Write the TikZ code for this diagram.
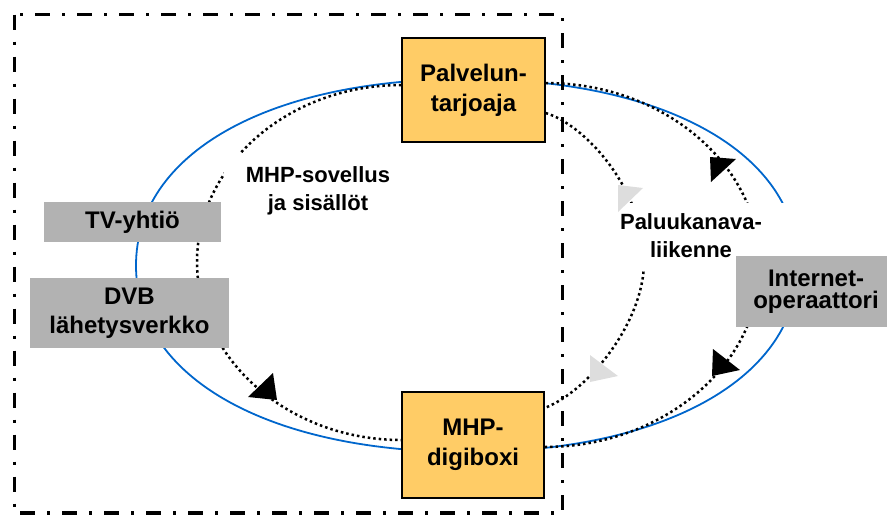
\documentclass[tikz,border=0pt]{standalone}
\usepackage{fontspec}
\setmainfont{Liberation Sans}
\definecolor{boxorange}{HTML}{FFCC66}
\definecolor{boxgray}{HTML}{B2B2B2}
\definecolor{ringblue}{HTML}{0066CC}
\definecolor{tipgray}{HTML}{DDDDDD}
\tikzset{
  orangebox/.style={draw=black, line width=1.3pt, fill=boxorange, inner sep=0pt,
    align=center, font=\fontsize{24}{30}\selectfont\bfseries},
  graybox/.style={fill=boxgray, inner sep=0pt, align=center,
    font=\fontsize{24}{28.5}\selectfont\bfseries},
  flowlabel/.style={fill=white, inner xsep=16pt, inner ysep=10pt, align=center,
    font=\fontsize{22}{28}\selectfont\bfseries},
  flowline/.style={line width=2.5pt, dash pattern=on 2.5pt off 3pt},
  ring/.style={draw=ringblue, line width=1.8pt},
  frame/.style={line width=3.5pt, dash pattern=on 15pt off 12pt on 3pt off 12pt},
}
\begin{document}
\begin{tikzpicture}[x=1pt, y=-1pt]
\useasboundingbox (0,0) rectangle (887,515);

% blue ring round the whole service chain
\draw[ring] (136,265.5) .. controls (136,153.6) and (268.4,79) .. (467,79)
  .. controls (665.6,79) and (798,153.6) .. (798,265.5)
  .. controls (798,377.4) and (665.6,452) .. (467,452)
  .. controls (268.4,452) and (136,377.4) .. (136,265.5) -- cycle;

% boxes (placed first so the flows can refer to them)
\node[orangebox, minimum width=143pt, minimum height=104pt] (pt) at (473.5,90)
  {Palvelun-\\tarjoaja};
\node[orangebox, minimum width=142pt, minimum height=106pt] (mhp) at (473,445)
  {MHP-\\digiboxi};

% turning points of the three flows
\coordinate (lbend) at (197,262);
\coordinate (mbend) at (644,262);
\coordinate (rbend) at (760,265);

% broadcast flow: service provider -> TV company -> DVB network -> set-top box
\draw[flowline] ([yshift=5pt]pt.west) .. controls +(-113,0) and +(0,-97) .. (lbend)
  .. controls +(0,97) and +(-113,0) .. ([yshift=5pt]mhp.west);
% return channel, inner loop
\draw[flowline] ([yshift=-23pt]pt.east) .. controls +(40,12) and +(0,-72) .. (mbend)
  .. controls +(0,58) and +(46,-18) .. ([yshift=37pt]mhp.east);
% return channel via the Internet operator
\draw[flowline] ([yshift=7pt]pt.east) .. controls +(118,0) and +(0,-100) .. (rbend)
  .. controls +(0,100) and +(118,0) .. ([yshift=-2pt]mhp.east);

% flow labels
\node[flowlabel, inner xsep=22pt, inner ysep=14pt] (apps) at (318,191.3)
  {MHP-sovellus\\ja sisällöt};
\node[flowlabel, inner xsep=19.6pt, inner ysep=11pt] (retlbl) at (701,236)
  {Paluukanava-\hspace*{20pt}\\liikenne\hspace*{20pt}};

% grey boxes on top of the flows
\node[graybox, minimum width=177pt, minimum height=40pt] (tv) at (132.5,222) {TV-yhtiö};
\node[graybox, minimum width=199pt, minimum height=70pt] (dvb) at (129.5,313)
  {DVB\\lähetysverkko};
\node[graybox, minimum width=160pt, minimum height=71pt,
  font=\fontsize{24}{22.5}\selectfont\bfseries] (inet) at (816,291.5)
  {Internet-\\operaattori};

% arrow heads
\fill[black] (273,373) -- (277,400) -- (248,397) -- cycle;
\fill[black] (710,157) -- (736,159) -- (711,182) -- cycle;
\fill[black] (713,349) -- (740,370) -- (712,376) -- cycle;
\fill[tipgray] (618,185) -- (643,188) -- (618,212) -- cycle;
\fill[tipgray] (590,355) -- (618,376) -- (590,382) -- cycle;

% dash-dot frame
\draw[frame] (14.5,14.5) rectangle (562.5,513);
\end{tikzpicture}
\end{document}
